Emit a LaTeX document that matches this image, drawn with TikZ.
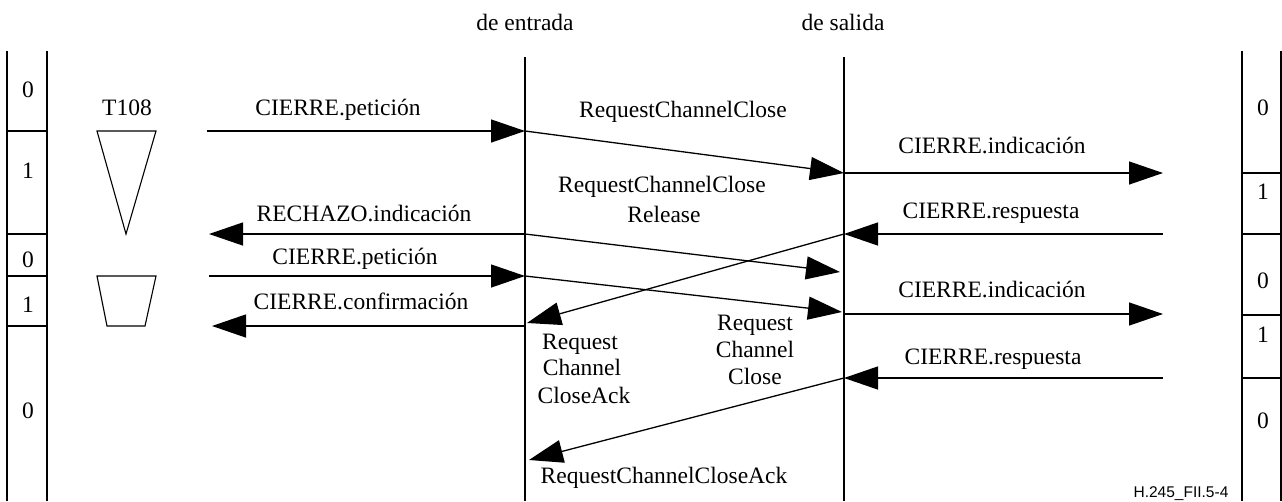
\documentclass[tikz,border=0pt]{standalone}
\usepackage{fontspec}
\setmainfont{Liberation Serif}
\newfontfamily\figsans{Liberation Sans}
\usetikzlibrary{arrows.meta}
\begin{document}
\begin{tikzpicture}[x=1pt,y=-1pt,
  ln/.style={line width=1.1pt},
  msg/.style={line width=1.3pt,-{Triangle[length=34pt,width=23pt]}},
  lbl/.style={font=\fontsize{23.5}{27}\selectfont,anchor=base,inner sep=0pt}]
\useasboundingbox (0,0) rectangle (1282,501);
% headers
\node[lbl] (hin) at (525,30) {de entrada};
\node[lbl] (hout) at (843,30) {de salida};
% left column
\draw[ln] (7,51) -- (7,501);
\draw[ln] (47,51) -- (47,501);
\foreach \yy in {131,234,276,326} \draw[ln] (7,\yy) -- (47,\yy);
\node[lbl] (l0) at (28,97) {0};
\node[lbl] (l1) at (28,178) {1};
\node[lbl] (l2) at (28,267) {0};
\node[lbl] (l3) at (28,312) {1};
\node[lbl] (l4) at (28,418) {0};
% right column
\draw[ln] (1242,51) -- (1242,501);
\draw[ln] (1281,51) -- (1281,501);
\foreach \yy in {173,234,315,378} \draw[ln] (1242,\yy) -- (1281,\yy);
\node[lbl] (r0) at (1263,115) {0};
\node[lbl] (r1) at (1263,199) {1};
\node[lbl] (r2) at (1263,288) {0};
\node[lbl] (r3) at (1263,342) {1};
\node[lbl] (r4) at (1263,428) {0};
% timer
\node[lbl] (t108) at (127,115) {T108};
\draw[ln,line join=miter] (97,131) -- (156,131) -- (126,234) -- cycle;
\draw[ln] (97,276) -- (156,276) -- (145,326) -- (107,326) -- cycle;
% middle lifelines
\draw[ln] (525,57) coordinate (A0) -- (525,501) coordinate (A1);
\draw[ln] (844,57) coordinate (B0) -- (844,501) coordinate (B1);
% coordinates
\coordinate (L1) at (207,131);
\coordinate (A1a) at (525,131);
\coordinate (B1a) at (844,173);
\coordinate (R1) at (1163,173);
\coordinate (L2) at (209,234);
\coordinate (A2) at (525,234);
\coordinate (B2x) at (840,272);
\coordinate (B2) at (844,234);
\coordinate (R2) at (1163,234);
\coordinate (A3x) at (527,323);
\coordinate (L3) at (209,276);
\coordinate (A3) at (525,276);
\coordinate (B3x) at (842,312);
\coordinate (B3) at (844,314);
\coordinate (R3) at (1163,314);
\coordinate (L4) at (212,326);
\coordinate (A4) at (525,326);
\coordinate (R4) at (1163,378);
\coordinate (B4) at (844,378);
\coordinate (A5x) at (529,460);
% messages
\draw[msg] (L1) -- (A1a);
\draw[msg] (A1a) -- (B1a);
\draw[msg] (B1a) -- (R1);
\draw[msg] (A2) -- (L2);
\draw[msg] (A2) -- (B2x);
\draw[msg] (R2) -- (B2);
\draw[msg] (B2) -- (A3x);
\draw[msg] (L3) -- (A3);
\draw[msg] (A3) -- (B3x);
\draw[msg] (B3) -- (R3);
\draw[msg] (A4) -- (L4);
\draw[msg] (R4) -- (B4);
\draw[msg] (B4) -- (A5x);
% labels
\node[lbl] (m1) at (338,115) {CIERRE.petición};
\node[lbl] (m2) at (683,117) {RequestChannelClose};
\node[lbl] (m3) at (992,153) {CIERRE.indicación};
\node[lbl] (m4) at (662,192) {RequestChannelClose};
\node[lbl] (m4b) at (664,222) {Release};
\node[lbl] (m5) at (364,221) {RECHAZO.indicación};
\node[lbl] (m6) at (991,218) {CIERRE.respuesta};
\node[lbl] (m7) at (355,264) {CIERRE.petición};
\node[lbl] (m8) at (361,309) {CIERRE.confirmación};
\node[lbl] (m9) at (992,297) {CIERRE.indicación};
\node[lbl] (m10) at (993,364) {CIERRE.respuesta};
\node[lbl] (m11a) at (580,349) {Request};
\node[lbl] (m11b) at (582,375) {Channel};
\node[lbl] (m11c) at (584,403) {CloseAck};
\node[lbl] (m12a) at (755,330) {Request};
\node[lbl] (m12b) at (755,357) {Channel};
\node[lbl] (m12c) at (755,384) {Close};
\node[lbl] (m13) at (664,483) {RequestChannelCloseAck};
\node[anchor=base,inner sep=0pt,font=\figsans\fontsize{15.5}{18}\selectfont] (fig) at (1181,497) {H.245\_FII.5-4};
\end{tikzpicture}
\end{document}
